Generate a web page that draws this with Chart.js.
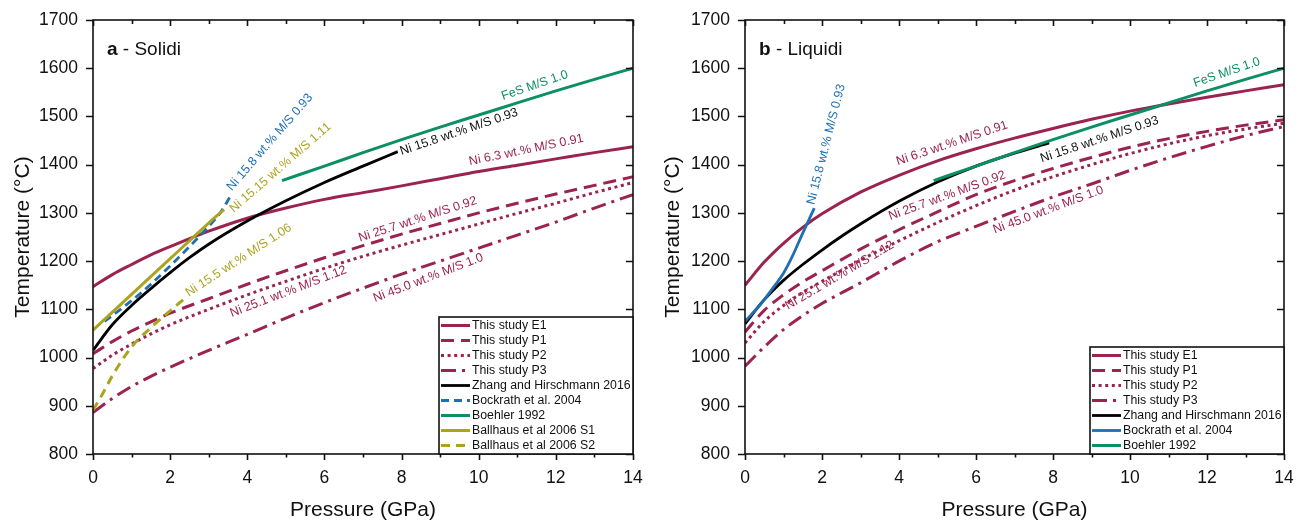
<!DOCTYPE html>
<html>
<head>
<meta charset="utf-8">
<script src="https://cdn.jsdelivr.net/npm/chart.js@4.4.0/dist/chart.umd.min.js"></script>
<style>
  body { margin: 0; background: #fff; width: 1302px; height: 522px; overflow: hidden; position: relative; }
  #wrapA { position: absolute; left: 0; top: 0; width: 650px; height: 522px; }
  #wrapB { position: absolute; left: 650px; top: 0; width: 652px; height: 522px; }
</style>
</head>
<body>
<div id="wrapA"><canvas id="solidi"></canvas></div>
<div id="wrapB"><canvas id="liquidi"></canvas></div>
<script>
// pressure grid (GPa) shared by the "this study" curves
const pressureGrid = [0, 0.5, 1, 1.5, 2, 3, 4, 5, 6, 7, 8, 9, 10, 11, 12, 13, 14]

// --- a: solidi (deg C) ---
const solidE1 = [1147, 1172, 1193, 1213, 1230, 1262, 1289, 1310, 1328, 1342, 1356, 1371, 1386, 1399, 1412, 1425, 1437]
const solidP1 = [1008, 1033, 1055, 1074, 1092, 1122, 1152, 1180, 1207, 1232, 1256, 1278, 1300, 1320, 1339, 1357, 1375]
const solidP2 = [977, 1005, 1028, 1049, 1068, 1100, 1130, 1158, 1185, 1210, 1233, 1255, 1277, 1299, 1320, 1342, 1363]
const solidP3 = [886, 915, 940, 961, 980, 1015, 1048, 1082, 1114, 1144, 1173, 1200, 1227, 1254, 1281, 1310, 1338]
const solidZhangP = [0, 0.5, 1, 1.5, 2, 2.5, 3, 4, 5, 6, 7, 7.9]
const solidZhangT = [1015, 1068, 1108, 1143, 1176, 1207, 1235, 1283, 1325, 1363, 1397, 1427]
const solidBockrathP = [0.3, 1, 1.5, 2, 2.5, 3, 3.3, 3.55]
const solidBockrathT = [1075, 1118, 1152, 1190, 1230, 1272, 1300, 1333]
const boehlerP = [4.9, 6, 7, 8, 9, 10, 11, 12, 13, 14]
const boehlerT = [1367, 1397, 1425, 1452, 1478, 1503, 1528, 1553, 1577, 1600]
const ballhausS1P = [0, 1, 2, 3, 3.4]
const ballhausS1T = [1057, 1131, 1205, 1279, 1307]
const ballhausS2P = [0, 0.25, 0.5, 1, 1.5, 2, 2.43]
const ballhausS2T = [891, 925, 962, 1022, 1062, 1097, 1126]

// --- b: liquidi (deg C) ---
const liquidE1 = [1150, 1198, 1237, 1270, 1298, 1343, 1378, 1408, 1433, 1455, 1475, 1494, 1511, 1526, 1540, 1553, 1566]
const liquidP1 = [1053, 1098, 1130, 1157, 1180, 1225, 1265, 1302, 1338, 1367, 1392, 1415, 1436, 1454, 1469, 1482, 1493]
const liquidP2 = [1030, 1075, 1108, 1135, 1158, 1202, 1242, 1280, 1315, 1347, 1375, 1400, 1423, 1443, 1460, 1474, 1486]
const liquidP3 = [982, 1022, 1058, 1087, 1112, 1155, 1200, 1240, 1272, 1303, 1333, 1360, 1388, 1414, 1438, 1460, 1479]
const liquidZhangP = [0, 0.5, 1, 1.5, 2, 2.5, 3, 4, 5, 6, 7, 7.9]
const liquidZhangT = [1070, 1120, 1160, 1193, 1223, 1251, 1277, 1324, 1364, 1397, 1424, 1445]
const liquidBockrathP = [0, 0.4, 0.75, 1, 1.2, 1.5, 1.8]
const liquidBockrathT = [1075, 1110, 1147, 1175, 1205, 1258, 1310]

const xTicks = [0, 2, 4, 6, 8, 10, 12, 14]
const yTicks = [800, 900, 1000, 1100, 1200, 1300, 1400, 1500, 1600, 1700]

const MAROON = "#9b2350"
const GREEN = "#0b8f63"
const BLUE = "#1f6fb2"
const OLIVE = "#aca41f"
const FONT = "'Liberation Sans', Arial, sans-serif"

const DASH = [13, 7]
const DOT = [3, 3.6]
const DASHDOT = [15, 6, 3, 6]

// curve labels: text, where it starts (GPa, deg C), slope angle in degrees
const solidNotes = [
  { text: "Ni 15.8 wt.% M/S 0.93", p: 3.6, t: 1345, angle: -49, color: BLUE },
  { text: "Ni 15.15 wt.% M/S 1.11", p: 3.65, t: 1300, angle: -41, color: OLIVE },
  { text: "Ni 15.5 wt.% M/S 1.06", p: 2.48, t: 1126, angle: -33, color: OLIVE },
  { text: "Ni 25.7 wt.% M/S 0.92", p: 6.92, t: 1240, angle: -18, color: MAROON },
  { text: "Ni 25.1 wt.% M/S 1.12", p: 3.6, t: 1084, angle: -21, color: MAROON },
  { text: "Ni 45.0 wt.% M/S 1.0", p: 7.31, t: 1115, angle: -21, color: MAROON },
  { text: "Ni 6.3 wt.% M/S 0.91", p: 9.77, t: 1399, angle: -11.6, color: MAROON },
  { text: "Ni 15.8 wt.% M/S 0.93", p: 8.0, t: 1420, angle: -18.7, color: "#111" },
  { text: "FeS M/S 1.0", p: 10.63, t: 1534, angle: -19, color: GREEN }
]
const liquidNotes = [
  { text: "Ni 15.8 wt.% M/S 0.93", p: 1.8, t: 1316, angle: -75.7, color: BLUE },
  { text: "Ni 6.3 wt.% M/S 0.91", p: 3.97, t: 1399, angle: -18.6, color: MAROON },
  { text: "Ni 15.8 wt.% M/S 0.93", p: 7.71, t: 1405, angle: -18.3, color: "#111" },
  { text: "FeS M/S 1.0", p: 11.69, t: 1561, angle: -19, color: GREEN },
  { text: "Ni 25.7 wt.% M/S 0.92", p: 3.77, t: 1285, angle: -20, color: MAROON },
  { text: "Ni 45.0 wt.% M/S 1.0", p: 6.49, t: 1257, angle: -20.5, color: MAROON },
  { text: "Ni 25.1 wt.% M/S 1.12", p: 1.12, t: 1099, angle: -30.5, color: MAROON }
]

function pts(ps, ts) {
  return ps.map((p, i) => ({ x: p, y: ts[i] }))
}

function line(label, ps, ts, color, dash, width) {
  return {
    label: label,
    data: pts(ps, ts),
    borderColor: color,
    backgroundColor: color,
    borderDash: dash || [],
    borderWidth: width || 2.8,
    pointRadius: 0,
    showLine: true,
    fill: false,
    cubicInterpolationMode: "monotone"
  }
}

// frame, ticks, panel title, curve labels and legend
const framePlugin = {
  id: "frame",
  afterDatasetsDraw(chart, args, opts) {
    const ctx = chart.ctx
    const a = chart.chartArea
    const x = chart.scales.x
    const y = chart.scales.y
    ctx.save()
    // curve labels
    ctx.font = "12.5px " + FONT
    ctx.textBaseline = "alphabetic"
    ctx.textAlign = "left"
    opts.notes.forEach(n => {
      ctx.save()
      ctx.translate(x.getPixelForValue(n.p), y.getPixelForValue(n.t))
      ctx.rotate(n.angle * Math.PI / 180)
      ctx.fillStyle = n.color
      ctx.fillText(n.text, 0, 0)
      ctx.restore()
    })

    // frame + ticks
    ctx.strokeStyle = "#111"
    ctx.lineWidth = 1.6
    ctx.strokeRect(a.left, a.top, a.right - a.left, a.bottom - a.top)
    ctx.beginPath()
    for (let p = 0; p <= 14; p++) {
      const px = Math.round(x.getPixelForValue(p)) + 0.5
      const major = p % 2 === 0
      ctx.moveTo(px, a.bottom)
      ctx.lineTo(px, a.bottom + (major ? 6 : 3.5))
      ctx.moveTo(px, a.top)
      ctx.lineTo(px, a.top + (major ? 6 : 4))
    }
    yTicks.forEach(t => {
      const py = Math.round(y.getPixelForValue(t)) + 0.5
      ctx.moveTo(a.left, py)
      ctx.lineTo(a.left - 7, py)
      ctx.moveTo(a.right, py)
      ctx.lineTo(a.right - 7, py)
    })
    ctx.stroke()

    // panel title
    ctx.fillStyle = "#111"
    ctx.font = "bold 19px " + FONT
    ctx.fillText(opts.letter, a.left + 14, 55)
    const w = ctx.measureText(opts.letter).width
    ctx.font = "19px " + FONT
    ctx.fillText(" - " + opts.title, a.left + 14 + w, 55)

    // legend
    const bx = opts.legend.left
    const by = opts.legend.top
    const items = chart.data.datasets
    const bh = a.bottom - by
    ctx.fillStyle = "#fff"
    ctx.fillRect(bx, by, a.right - bx, bh)
    ctx.lineWidth = 1.6
    ctx.strokeStyle = "#111"
    ctx.strokeRect(bx, by, a.right - bx, bh)
    ctx.font = "12.3px " + FONT
    ctx.textBaseline = "middle"
    items.forEach((d, i) => {
      const ry = by + 8.5 + i * 15
      ctx.beginPath()
      ctx.strokeStyle = d.borderColor
      ctx.lineWidth = d.borderWidth
      ctx.setLineDash(d.borderDash)
      ctx.moveTo(bx + 2, ry)
      ctx.lineTo(bx + 31, ry)
      ctx.stroke()
      ctx.setLineDash([])
      ctx.fillStyle = "#111"
      ctx.fillText(d.label, bx + 33, ry + 0.5)
    })
    ctx.restore()
  }
}

function options(yWidth, padRight, extra) {
  return {
    responsive: true,
    maintainAspectRatio: false,
    animation: false,
    devicePixelRatio: 1,
    layout: { padding: { left: 0, right: padRight, top: 20, bottom: 0 } },
    plugins: {
      legend: { display: false },
      tooltip: { enabled: false },
      frame: extra
    },
    scales: {
      x: {
        type: "linear",
        min: 0,
        max: 14,
        afterBuildTicks: s => { s.ticks = xTicks.map(v => ({ value: v })) },
        afterFit: s => { s.height = 68 },
        grid: { display: false, drawTicks: true, tickLength: 14 },
        border: { display: false },
        ticks: { color: "#111", padding: 0, font: { family: FONT, size: 17.5 }, callback: v => String(v) },
        title: {
          display: true,
          text: "Pressure (GPa)",
          color: "#111",
          font: { family: FONT, size: 21, lineHeight: 1.05 },
          padding: { top: 0, bottom: 1 }
        }
      },
      y: {
        type: "linear",
        min: 800,
        max: 1700,
        afterBuildTicks: s => { s.ticks = yTicks.map(v => ({ value: v })) },
        afterFit: s => { s.width = yWidth },
        grid: { display: false, drawTicks: true, tickLength: 15 },
        border: { display: false },
        ticks: { color: "#111", padding: 0, font: { family: FONT, size: 17.5 }, callback: v => String(v) },
        title: {
          display: true,
          text: "Temperature (°C)",
          color: "#111",
          font: { family: FONT, size: 21, lineHeight: 1.2 },
          padding: { top: 11, bottom: 0 }
        }
      }
    }
  }
}

const solidSets = [
  line("This study E1", pressureGrid, solidE1, MAROON, null, 3),
  line("This study P1", pressureGrid, solidP1, MAROON, DASH, 3),
  line("This study P2", pressureGrid, solidP2, MAROON, DOT, 3),
  line("This study P3", pressureGrid, solidP3, MAROON, DASHDOT, 3),
  line("Zhang and Hirschmann 2016", solidZhangP, solidZhangT, "#000", null, 2.8),
  line("Bockrath et al. 2004", solidBockrathP, solidBockrathT, BLUE, [8, 5], 2.8),
  line("Boehler 1992", boehlerP, boehlerT, GREEN, null, 3),
  line("Ballhaus et al 2006 S1", ballhausS1P, ballhausS1T, OLIVE, null, 3),
  line("Ballhaus et al 2006 S2", ballhausS2P, ballhausS2T, OLIVE, [9, 6], 3)
]
solidSets.forEach((d, i) => { d.order = solidSets.length - i })

const liquidSets = [
  line("This study E1", pressureGrid, liquidE1, MAROON, null, 3),
  line("This study P1", pressureGrid, liquidP1, MAROON, DASH, 3),
  line("This study P2", pressureGrid, liquidP2, MAROON, DOT, 3),
  line("This study P3", pressureGrid, liquidP3, MAROON, DASHDOT, 3),
  line("Zhang and Hirschmann 2016", liquidZhangP, liquidZhangT, "#000", null, 2.8),
  line("Bockrath et al. 2004", liquidBockrathP, liquidBockrathT, BLUE, null, 2.8),
  line("Boehler 1992", boehlerP, boehlerT, GREEN, null, 3)
]
liquidSets.forEach((d, i) => { d.order = liquidSets.length - i })

new Chart(document.getElementById("solidi"), {
  type: "scatter",
  data: { datasets: solidSets },
  options: options(93, 17, { notes: solidNotes, letter: "a", title: "Solidi", legend: { left: 439, top: 317 } }),
  plugins: [framePlugin]
})

new Chart(document.getElementById("liquidi"), {
  type: "scatter",
  data: { datasets: liquidSets },
  options: options(95, 18, { notes: liquidNotes, letter: "b", title: "Liquidi", legend: { left: 440, top: 347 } }),
  plugins: [framePlugin]
})
</script>
</body>
</html>
